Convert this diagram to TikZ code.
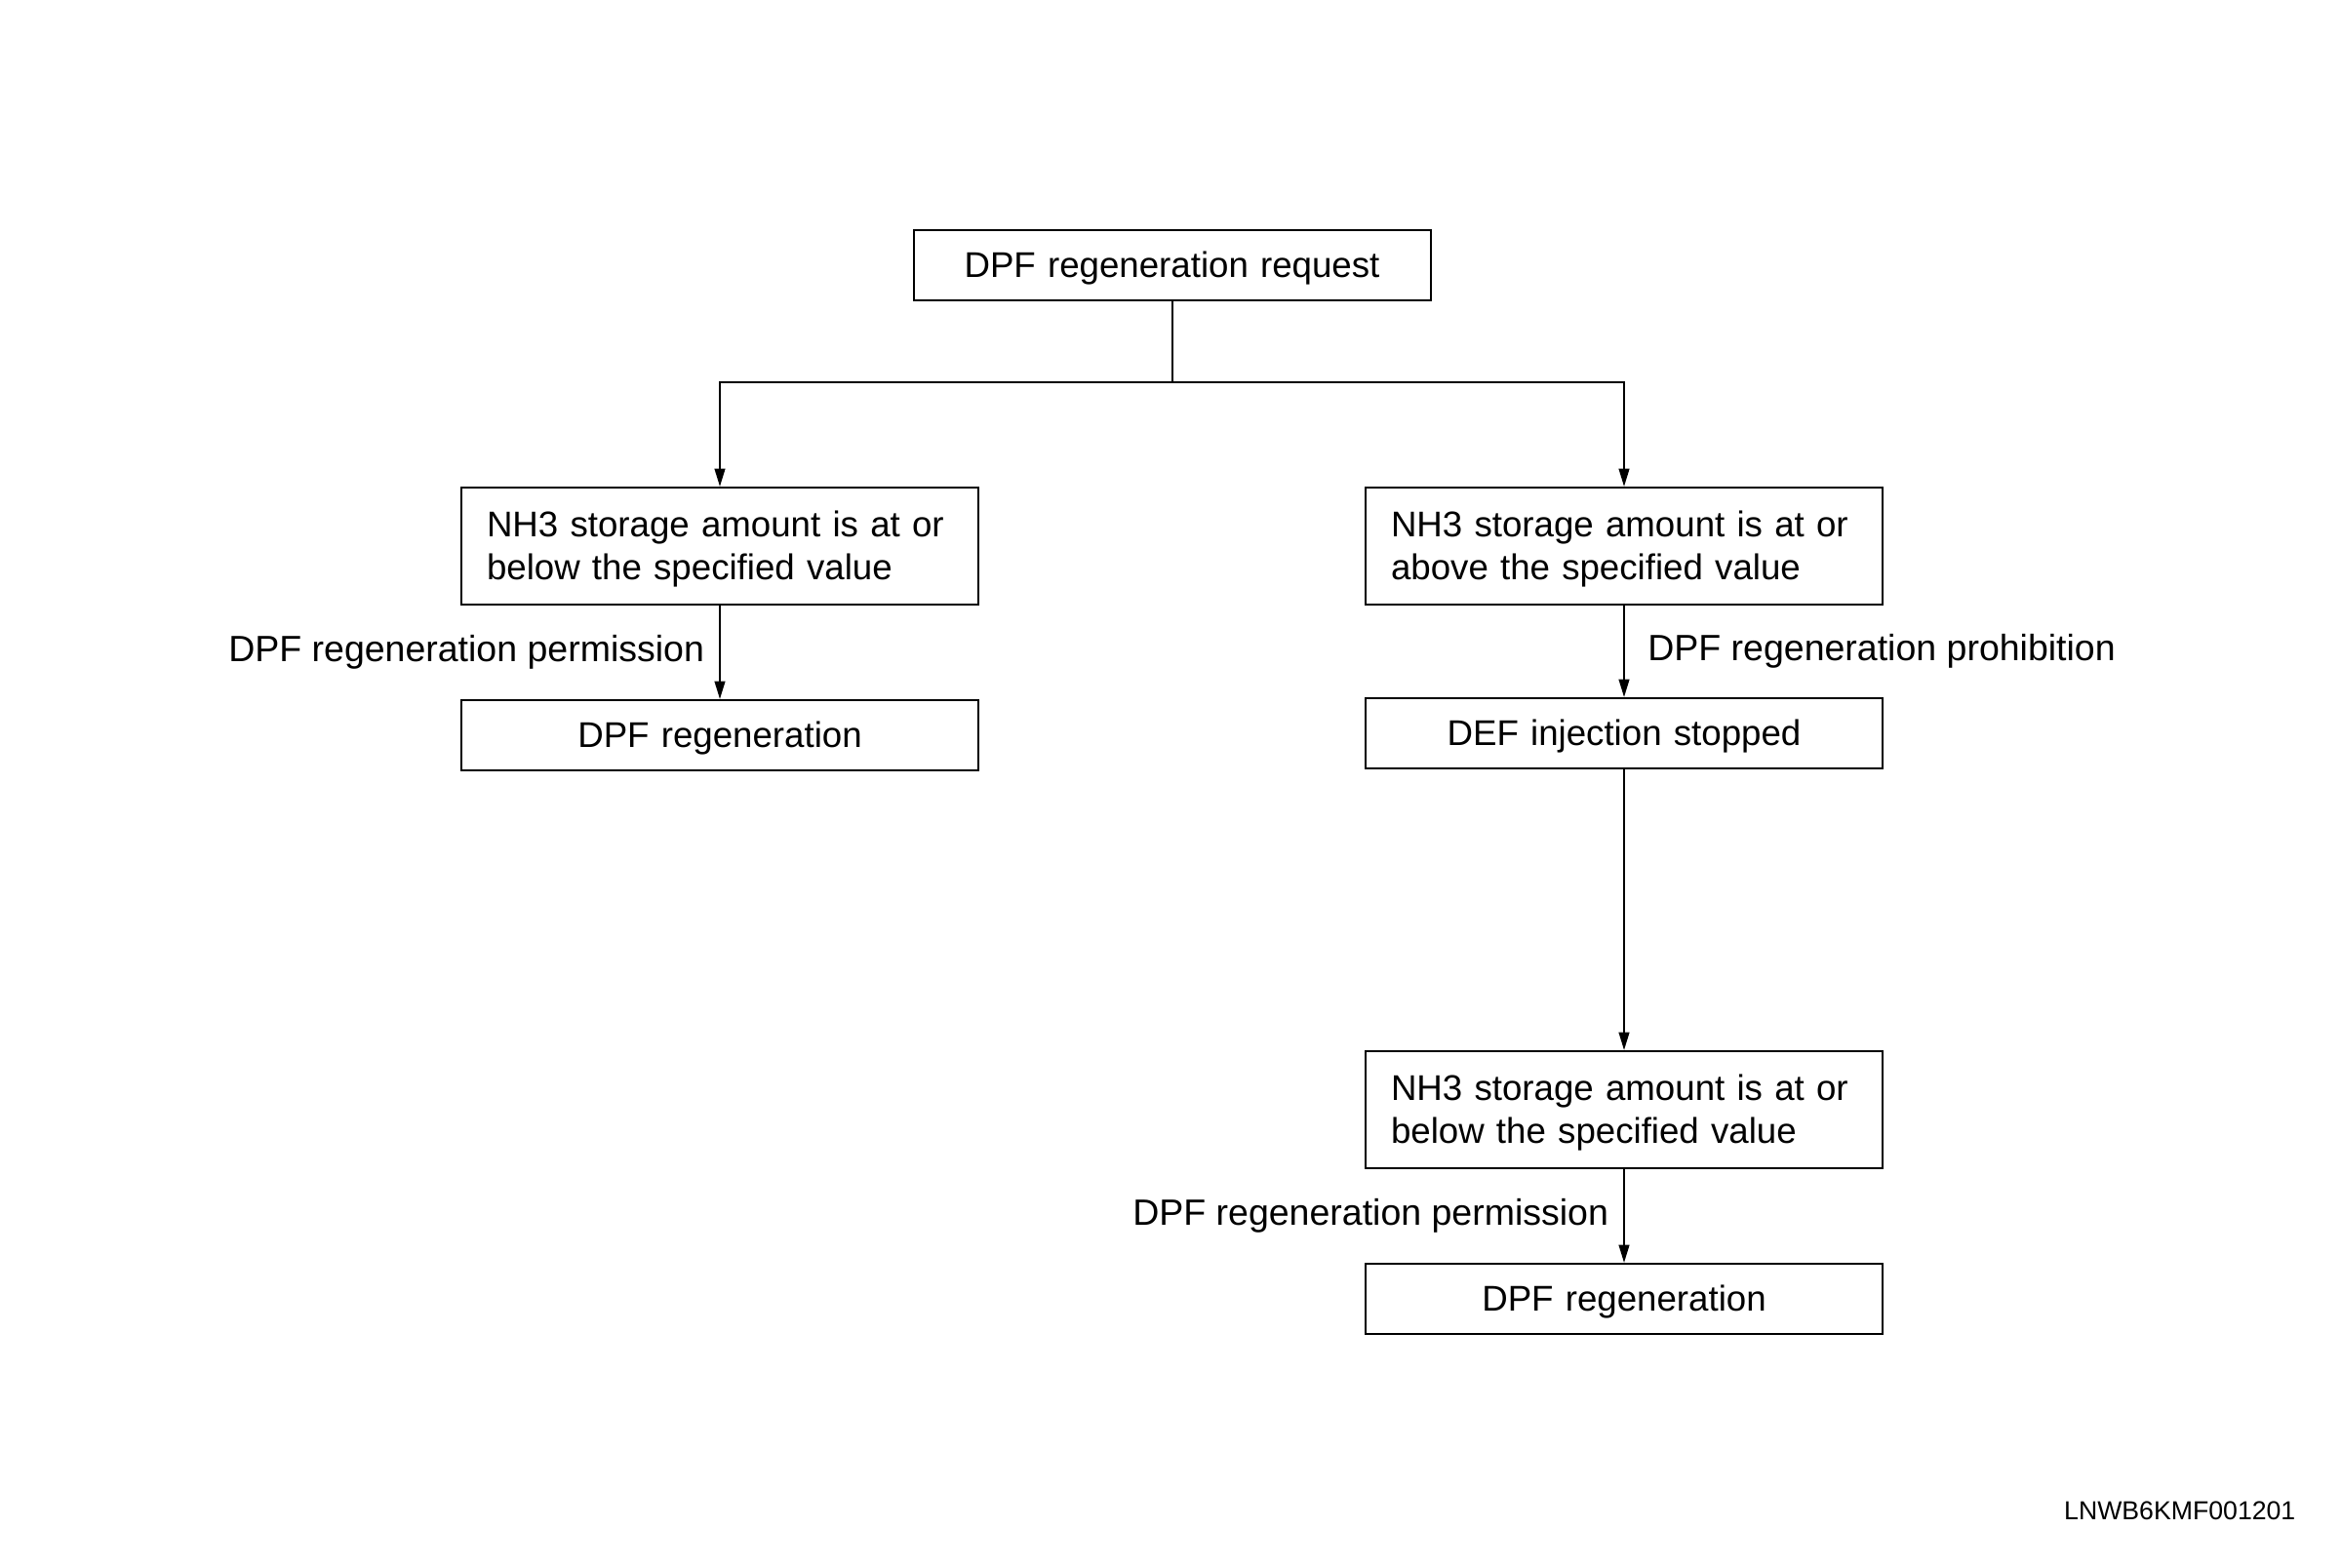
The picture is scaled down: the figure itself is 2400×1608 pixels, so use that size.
\documentclass[tikz,border=0pt]{standalone}
\usepackage{fontspec}
\setmainfont{Liberation Sans}
\usetikzlibrary{arrows.meta}
\newcommand\bxst{\rule{0pt}{9.9pt}}
\begin{document}
\begin{tikzpicture}[x=0.3pt,y=-0.3pt,
  box/.style={draw,line width=0.6pt,minimum width=159pt,text width=143.4pt,inner xsep=7.8pt,inner ysep=0pt,font=\fontsize{11}{13.3}\selectfont},
  onebox/.style={box,align=center,minimum height=21.6pt},
  twobox/.style={box,align=left,minimum height=36pt},
  arr/.style={line width=0.6pt,-{Triangle[length=5.5pt,width=3.2pt]}},
  lbl/.style={font=\fontsize{11.25}{13.3}\selectfont,inner sep=0pt}]
\useasboundingbox (0,0) rectangle (2400,1608);
\node[onebox] (top) at (1201.5,272) {\bxst DPF regeneration request};
\node[twobox] (L1) at (738,560) {\bxst NH3 storage amount is at or\\below the specified value};
\node[onebox] (L2) at (738,754) {\bxst DPF regeneration};
\node[twobox] (R1) at (1665,560) {\bxst NH3 storage amount is at or\\above the specified value};
\node[onebox] (R2) at (1665,752) {\bxst DEF injection stopped};
\node[twobox] (R3) at (1665,1138) {\bxst NH3 storage amount is at or\\below the specified value};
\node[onebox] (R4) at (1665,1332) {\bxst DPF regeneration};
\coordinate (j) at (1201.5,392);
\draw[line width=0.6pt] (top.south) -- (j);
\draw[arr] (j) -| (L1.north);
\draw[arr] (j) -| (R1.north);
\draw[arr] (L1.south) -- node[lbl,midway,anchor=east,xshift=-4.5pt] (lp1) {DPF regeneration permission} (L2.north);
\draw[arr] (R1.south) -- node[lbl,midway,anchor=west,xshift=7pt] (lp2) {DPF regeneration prohibition} (R2.north);
\draw[arr] (R2.south) -- (R3.north);
\draw[arr] (R3.south) -- node[lbl,midway,anchor=east,xshift=-4.5pt] (lp3) {DPF regeneration permission} (R4.north);
\node[font=\fontsize{8}{9}\selectfont,anchor=east,inner sep=0pt] (code) at (2354,1549) {LNWB6KMF001201};
\end{tikzpicture}
\end{document}
